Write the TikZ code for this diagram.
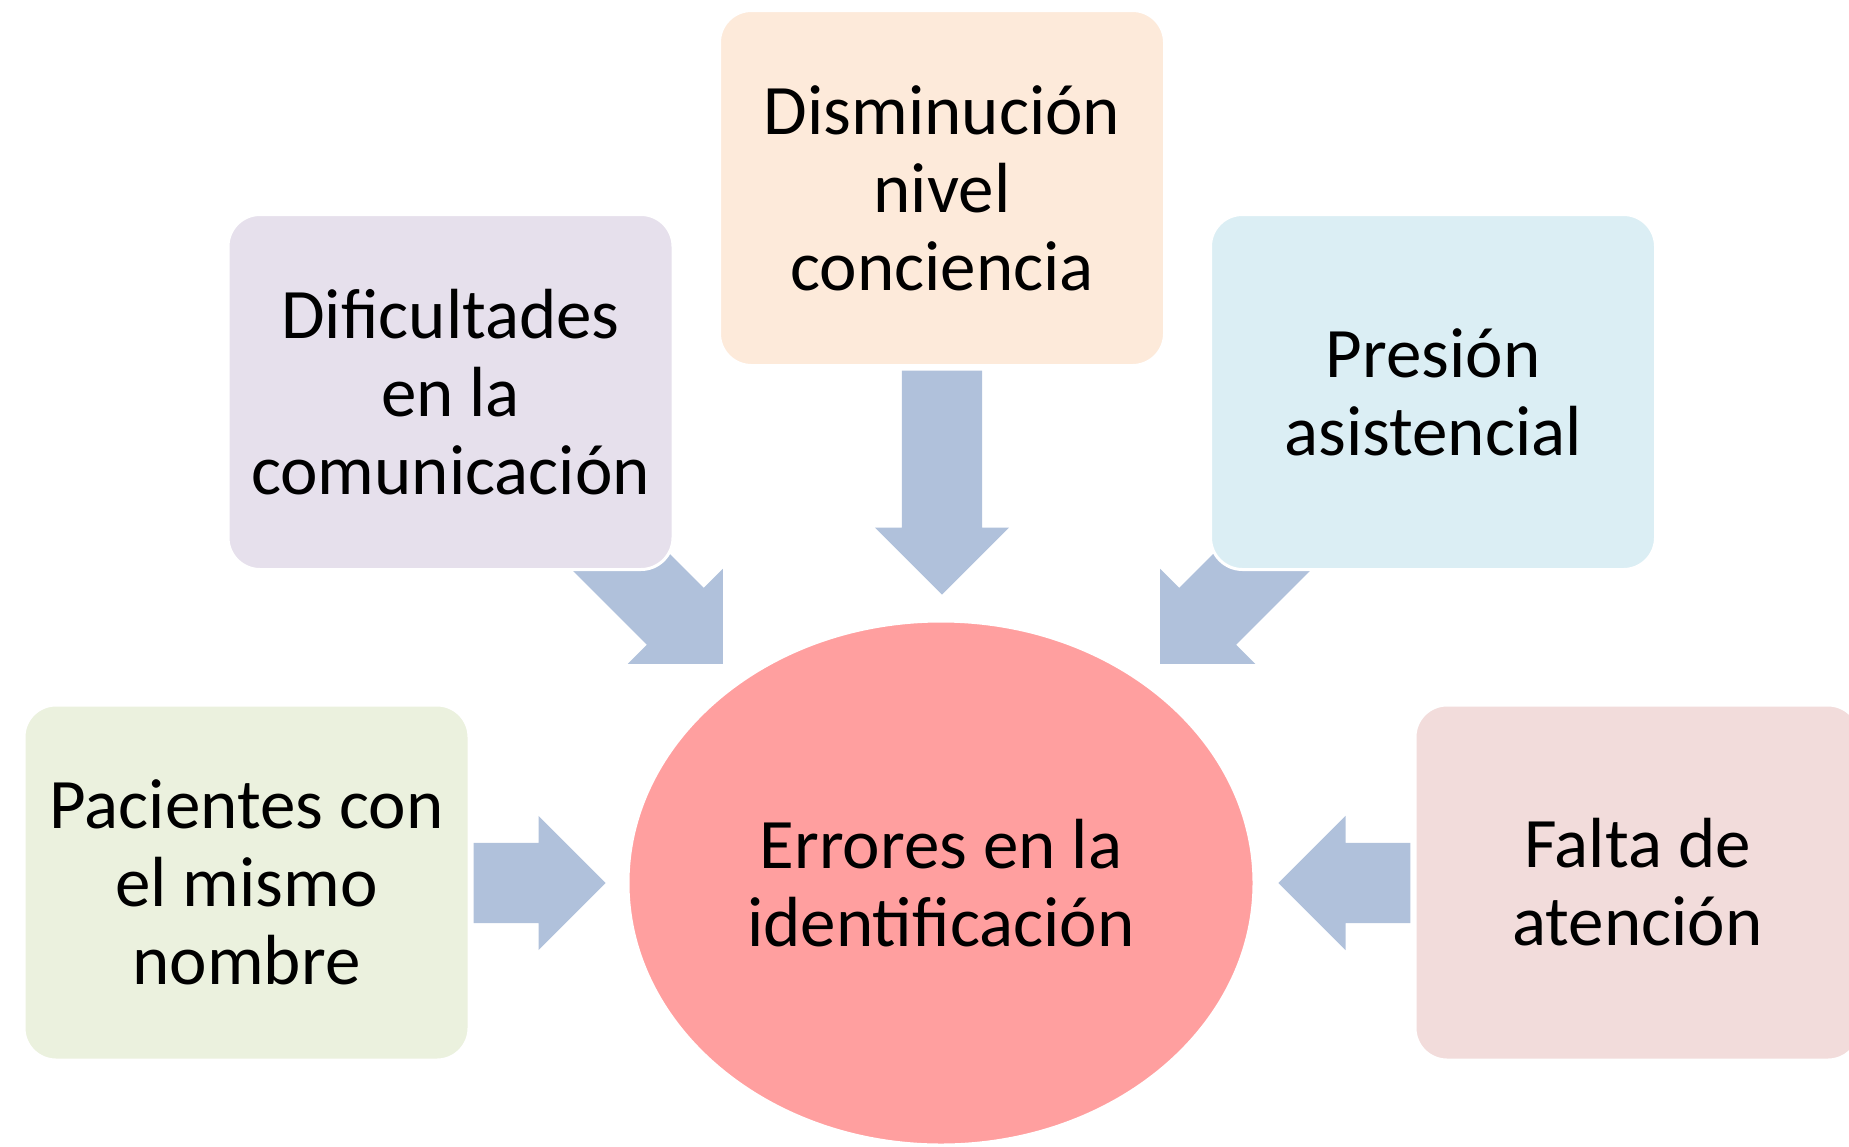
\documentclass[tikz,border=0pt]{standalone}
\usepackage{fontspec}
\setmainfont{Carlito}
\usetikzlibrary{shapes.geometric,shapes.arrows}

\definecolor{cajaMorada}{HTML}{E6E0EC}
\definecolor{cajaNaranja}{HTML}{FDEADA}
\definecolor{cajaAzul}{HTML}{DBEEF4}
\definecolor{cajaVerde}{HTML}{EBF1DE}
\definecolor{cajaRosa}{HTML}{F2DCDB}
\definecolor{rojoCentro}{HTML}{FF9F9F}
\definecolor{azulFlecha}{HTML}{B0C1DB}

\begin{document}
\begin{tikzpicture}[x=1pt, y=-1pt,
	caja/.style={rectangle, rounded corners=32pt, draw=white, line width=3pt, minimum width=445pt, minimum height=355pt, inner sep=0pt, align=center, font=\fontsize{71}{78}\selectfont},
	bloque/.style={single arrow, fill=azulFlecha, draw=none, minimum width=134pt, single arrow head extend=27pt, inner xsep=0pt, inner ysep=40pt, anchor=tip}]
			\useasboundingbox (0,0) rectangle (1849,1146);
			
			\node[bloque, minimum height=224pt, rotate=-90] (f1) at (942,595){};
			\node[bloque, minimum height=222pt, rotate=-45] (f2) at (723,664){};
			\node[bloque, minimum height=222pt, rotate=-135] (f3) at (1160,664){};
			\node[bloque, minimum height=132pt] (f4) at (606,883){};
			\node[bloque, minimum height=132pt, rotate=180] (f5) at (1278,883){};
			
			\node[caja, fill=cajaNaranja] (dism) at (942,188){Disminución\\nivel\\conciencia};
			\node[caja, fill=cajaMorada] (dific) at (450.5,392){Dificultades\\en la\\comunicación};
			\node[caja, fill=cajaAzul] (pres) at (1433,392){Presión\\asistencial};
			\node[caja, fill=cajaVerde] (pac) at (246.5,882.5){Pacientes con\\el mismo\\nombre};
			\node[caja, fill=cajaRosa] (falta) at (1637.5,882.5){Falta de\\atención};
			
			\node[ellipse, fill=rojoCentro, draw=white, line width=3pt, minimum width=626pt, minimum height=524pt, inner sep=0pt, align=center, font=\fontsize{71}{78}\selectfont] (err) at (941,883){Errores en la\\identificación};
			\end{tikzpicture}
\end{document}
